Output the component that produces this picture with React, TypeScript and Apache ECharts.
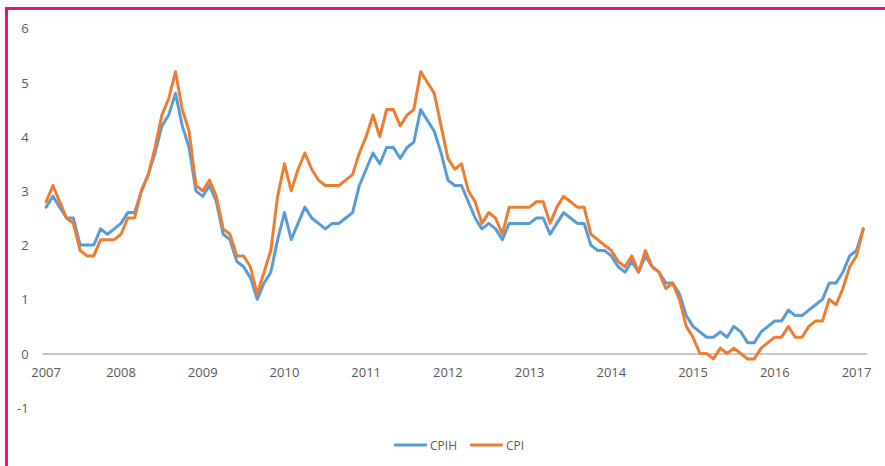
import React, { useEffect, useRef } from "react";
import * as echarts from "echarts";

// Monthly 12-month rates, Feb 2007 to Feb 2017
const startYear = 2007;
const startMonth = 2; // February

const cpih: number[] = [
  // 2007 Feb-Dec
  2.7, 2.9, 2.7, 2.5, 2.5, 2.0, 2.0, 2.0, 2.3, 2.2, 2.3,
  // 2008
  2.4, 2.6, 2.6, 3.0, 3.3, 3.7, 4.2, 4.4, 4.8, 4.2, 3.8, 3.0,
  // 2009
  2.9, 3.1, 2.8, 2.2, 2.1, 1.7, 1.6, 1.4, 1.0, 1.3, 1.5, 2.1,
  // 2010
  2.6, 2.1, 2.4, 2.7, 2.5, 2.4, 2.3, 2.4, 2.4, 2.5, 2.6, 3.1,
  // 2011
  3.4, 3.7, 3.5, 3.8, 3.8, 3.6, 3.8, 3.9, 4.5, 4.3, 4.1, 3.7,
  // 2012
  3.2, 3.1, 3.1, 2.8, 2.5, 2.3, 2.4, 2.3, 2.1, 2.4, 2.4, 2.4,
  // 2013
  2.4, 2.5, 2.5, 2.2, 2.4, 2.6, 2.5, 2.4, 2.4, 2.0, 1.9, 1.9,
  // 2014
  1.8, 1.6, 1.5, 1.7, 1.5, 1.8, 1.6, 1.5, 1.3, 1.3, 1.1, 0.7,
  // 2015
  0.5, 0.4, 0.3, 0.3, 0.4, 0.3, 0.5, 0.4, 0.2, 0.2, 0.4, 0.5,
  // 2016
  0.6, 0.6, 0.8, 0.7, 0.7, 0.8, 0.9, 1.0, 1.3, 1.3, 1.5, 1.8,
  // 2017 Jan-Feb
  1.9, 2.3,
];

const cpi: number[] = [
  // 2007 Feb-Dec
  2.8, 3.1, 2.8, 2.5, 2.4, 1.9, 1.8, 1.8, 2.1, 2.1, 2.1,
  // 2008
  2.2, 2.5, 2.5, 3.0, 3.3, 3.8, 4.4, 4.7, 5.2, 4.5, 4.1, 3.1,
  // 2009
  3.0, 3.2, 2.9, 2.3, 2.2, 1.8, 1.8, 1.6, 1.1, 1.5, 1.9, 2.9,
  // 2010
  3.5, 3.0, 3.4, 3.7, 3.4, 3.2, 3.1, 3.1, 3.1, 3.2, 3.3, 3.7,
  // 2011
  4.0, 4.4, 4.0, 4.5, 4.5, 4.2, 4.4, 4.5, 5.2, 5.0, 4.8, 4.2,
  // 2012
  3.6, 3.4, 3.5, 3.0, 2.8, 2.4, 2.6, 2.5, 2.2, 2.7, 2.7, 2.7,
  // 2013
  2.7, 2.8, 2.8, 2.4, 2.7, 2.9, 2.8, 2.7, 2.7, 2.2, 2.1, 2.0,
  // 2014
  1.9, 1.7, 1.6, 1.8, 1.5, 1.9, 1.6, 1.5, 1.2, 1.3, 1.0, 0.5,
  // 2015
  0.3, 0.0, 0.0, -0.1, 0.1, 0.0, 0.1, 0.0, -0.1, -0.1, 0.1, 0.2,
  // 2016
  0.3, 0.3, 0.5, 0.3, 0.3, 0.5, 0.6, 0.6, 1.0, 0.9, 1.2, 1.6,
  // 2017 Jan-Feb
  1.8, 2.3,
];

const categories: string[] = cpi.map((_, i) => {
  const m = startMonth - 1 + i;
  const y = startYear + Math.floor(m / 12);
  const mm = (m % 12) + 1;
  return `${y}-${String(mm).padStart(2, "0")}`;
});

const yTicks = { min: -1, max: 6, interval: 1 };

const BLUE = "#5b9bd5";
const ORANGE = "#ed7d31";
const TEXT = "#595959";
const AXIS = "#c4c4c4";
const FONT = "'Open Sans', 'Noto Sans', sans-serif";

const GRID_TOP = 28.3;
const GRID_BOTTOM = 58.3;
const CHART_H = 466;

export default function App() {
  const ref = useRef<HTMLDivElement>(null);

  useEffect(() => {
    if (!ref.current) return;
    const chart = echarts.init(ref.current, undefined, { renderer: "svg" });
    // distance from the bottom of the plot (y = min) up to the zero line
    const plotH = CHART_H - GRID_TOP - GRID_BOTTOM;
    const zeroOffset = (plotH * (0 - yTicks.min)) / (yTicks.max - yTicks.min);
    // one split line colour per tick, visible only at zero
    const tickCount = (yTicks.max - yTicks.min) / yTicks.interval + 1;
    const splitColors = Array.from({ length: tickCount }, (_, k) =>
      yTicks.min + k * yTicks.interval === 0 ? AXIS : "rgba(0,0,0,0)"
    );
    chart.setOption({
      animation: false,
      backgroundColor: "#ffffff",
      grid: { left: 42.7, right: 18.3, top: GRID_TOP, bottom: GRID_BOTTOM },
      legend: {
        data: ["CPIH", "CPI"],
        left: 389,
        top: 434,
        icon: "roundRect",
        itemWidth: 33,
        itemHeight: 3,
        itemGap: 13,
        textStyle: { color: TEXT, fontSize: 12, fontFamily: FONT, padding: [0, 0, 0, -2] },
      },
      xAxis: {
        type: "category",
        data: categories,
        boundaryGap: true,
        offset: -zeroOffset,
        axisLine: { show: true, onZero: false, lineStyle: { color: AXIS, width: 1.5 } },
        axisTick: { show: false },
        splitLine: { show: false },
        axisLabel: {
          color: TEXT,
          fontSize: 13,
          fontFamily: FONT,
          margin: 12,
          interval: (index: number, value: string) =>
            index === 0 || value.endsWith("-01"),
          formatter: (value: string) => value.slice(0, 4),
        },
      },
      yAxis: {
        type: "value",
        min: yTicks.min,
        max: yTicks.max,
        interval: yTicks.interval,
        axisLine: { show: false },
        axisTick: { show: false },
        splitLine: { show: true, lineStyle: { color: splitColors, width: 1.5 } },
        axisLabel: { color: TEXT, fontSize: 13, fontFamily: FONT, margin: 14 },
      },
      series: [
        {
          name: "CPIH",
          type: "line",
          data: cpih,
          symbol: "none",
          showSymbol: false,
          z: 3,
          lineStyle: { color: BLUE, width: 3, cap: "round", join: "round" },
          itemStyle: { color: BLUE },
        },
        {
          name: "CPI",
          type: "line",
          data: cpi,
          symbol: "none",
          showSymbol: false,
          z: 4,
          lineStyle: { color: ORANGE, width: 3, cap: "round", join: "round" },
          itemStyle: { color: ORANGE },
        },
      ],
    });
    return () => chart.dispose();
  }, []);

  return (
    <div
      style={{
        position: "fixed",
        left: 0,
        top: 0,
        width: 885,
        height: 466,
        overflow: "hidden",
        background: "#ffffff",
      }}
    >
      <div ref={ref} style={{ position: "absolute", left: 0, top: 0, width: 885, height: 466 }} />
      <div
        style={{
          position: "absolute",
          left: 5,
          top: 7,
          width: 1000,
          height: 1000,
          borderLeft: "3px solid #e4137f",
          borderTop: "3px solid #e4137f",
          pointerEvents: "none",
        }}
      />
    </div>
  );
}
